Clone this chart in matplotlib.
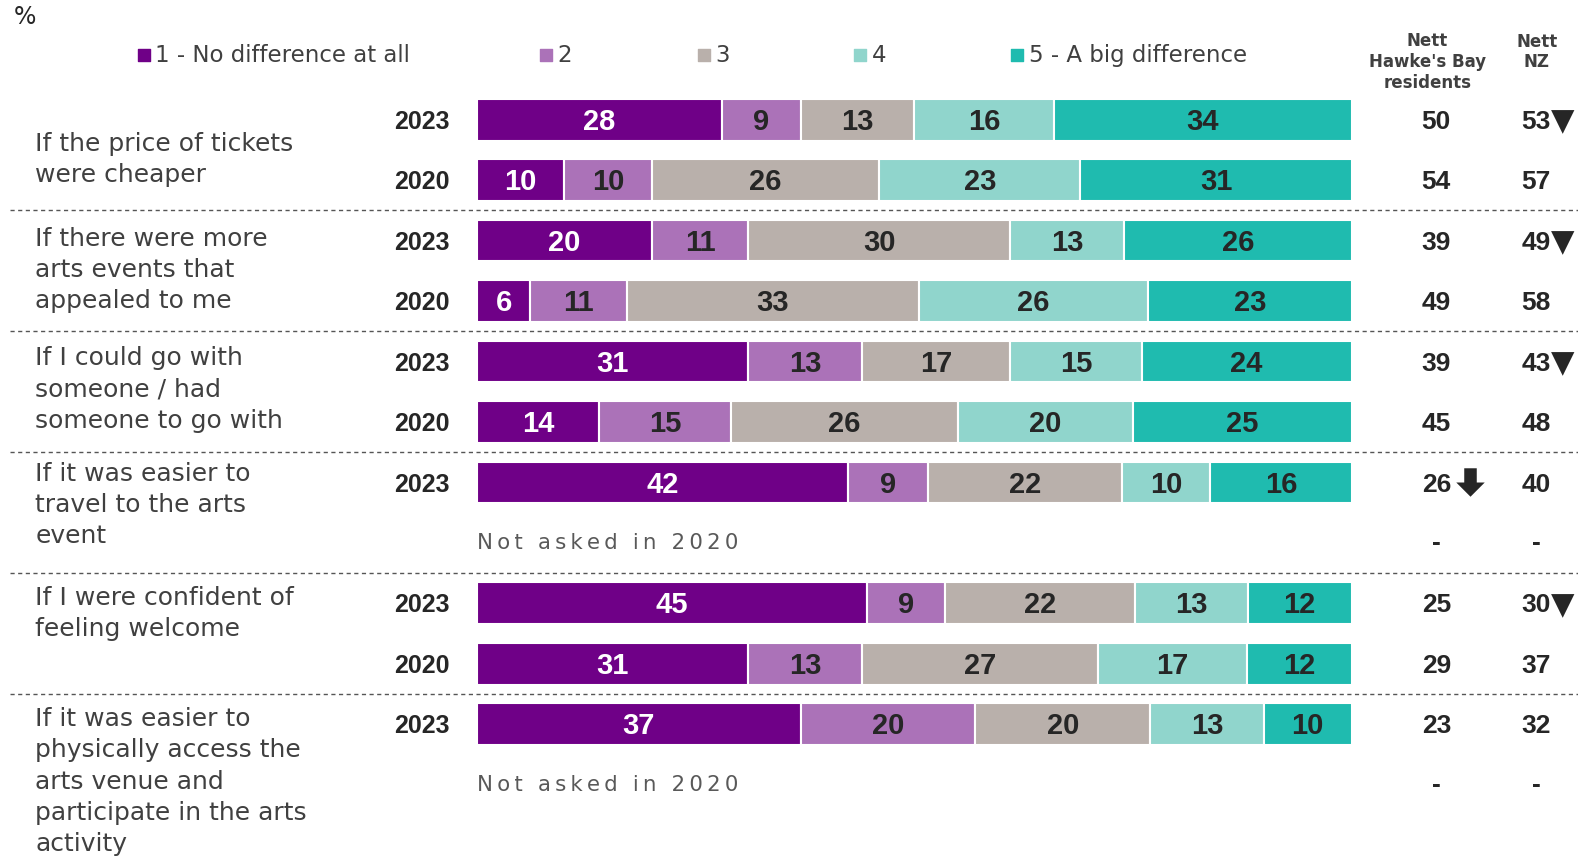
import matplotlib
matplotlib.use('Agg')
import matplotlib.pyplot as plt
from matplotlib.path import Path
import numpy as np

# Survey data: share of respondents for each scale point (1..5)
categories = [
    'If the price of tickets\nwere cheaper',
    'If there were more\narts events that\nappealed to me',
    'If I could go with\nsomeone / had\nsomeone to go with',
    'If it was easier to\ntravel to the arts\nevent',
    'If I were confident of\nfeeling welcome',
    'If it was easier to\nphysically access the\narts venue and\nparticipate in the arts\nactivity',
]
years = ['2023', '2020']
scale_labels = ['1 - No difference at all', '2', '3', '4', '5 - A big difference']

# None = not asked in 2020
values_2023 = [
    [28, 9, 13, 16, 34],
    [20, 11, 30, 13, 26],
    [31, 13, 17, 15, 24],
    [42, 9, 22, 10, 16],
    [45, 9, 22, 13, 12],
    [37, 20, 20, 13, 10],
]
values_2020 = [
    [10, 10, 26, 23, 31],
    [6, 11, 33, 26, 23],
    [14, 15, 26, 20, 25],
    None,
    [31, 13, 27, 17, 12],
    None,
]
nett_hb_2023 = [50, 39, 39, 26, 25, 23]
nett_hb_2020 = [54, 49, 45, None, 29, None]
nett_nz_2023 = [53, 49, 43, 40, 30, 32]
nett_nz_2020 = [57, 58, 48, None, 37, None]
# significance flags
nz_lower_2023 = [True, True, True, False, True, False]
hb_lower_2023 = [False, False, False, True, False, False]

colors = ['#6f0087', '#ab72b8', '#b9b0ab', '#90d5cc', '#1fbbaf']
text_colors = ['white', '#262626', '#262626', '#262626', '#262626']
dark = '#262626'
grey = '#404040'

label_font = 'DejaVu Sans'
num_font = 'Liberation Sans'

# thick down arrow marker
arrow = Path([(-0.22, 0.5), (0.22, 0.5), (0.22, 0.0), (0.5, 0.0), (0.0, -0.5),
              (-0.5, 0.0), (-0.22, 0.0), (-0.22, 0.5)],
             [Path.MOVETO] + [Path.LINETO] * 6 + [Path.CLOSEPOLY])

fig = plt.figure(figsize=(15.78, 8.59), dpi=100)
ax = fig.add_axes([0, 0, 1, 1])
ax.set_xlim(-54.55, 125.9)
ax.set_ylim(12.23, -1.98)
ax.axis('off')

bar_h = 0.69
dy = 0.035  # nudge text down a touch

for g in range(len(categories)):
    for k, vals in enumerate([values_2023[g], values_2020[g]]):
        row = 2 * g + k
        if vals is None:
            ax.text(0, row, '\u2009'.join('Not asked in 2020'), ha='left', va='center',
                    fontsize=15.3, color='#595959', family=label_font)
            ax.text(109.7, row, '-', ha='center', va='center', fontsize=19,
                    fontweight='bold', color=dark, family=num_font)
            ax.text(121.1, row, '-', ha='center', va='center', fontsize=19,
                    fontweight='bold', color=dark, family=num_font)
            continue
        ax.text(-3.1, row + dy, years[k], ha='right', va='center',
                fontsize=18, fontweight='bold', color=dark, family=num_font)
        total = sum(vals)
        widths = np.array(vals) / total * 100
        lefts = np.concatenate([[0], np.cumsum(widths)[:-1]])
        ax.barh(row, widths, left=lefts, height=bar_h, color=colors,
                edgecolor='white', linewidth=1.5)
        for v, w, l, tc in zip(vals, widths, lefts, text_colors):
            ax.text(l + w / 2, row + dy, str(v), ha='center', va='center',
                    fontsize=21, fontweight='bold', color=tc, family=num_font)
        hb = nett_hb_2023[g] if k == 0 else nett_hb_2020[g]
        nz = nett_nz_2023[g] if k == 0 else nett_nz_2020[g]
        ax.text(109.7, row + dy, str(hb), ha='center', va='center', fontsize=19,
                fontweight='bold', color=dark, family=num_font)
        ax.text(121.1, row + dy, str(nz), ha='center', va='center', fontsize=19,
                fontweight='bold', color=dark, family=num_font)
        if k == 0 and nz_lower_2023[g]:
            ax.text(122.8, row + dy, '\u25BC', ha='left', va='center', fontsize=22,
                    color=dark, family='DejaVu Sans')
        if k == 0 and hb_lower_2023[g]:
            ax.scatter([113.6], [row], marker=arrow, s=420, color=dark,
                       linewidths=0)

# category labels
label_y = [0.66, 2.49, 4.46, 6.37, 8.17, 10.95]
for cat, y in zip(categories, label_y):
    ax.text(-50.5, y, cat, ha='left', va='center', fontsize=18, color=grey,
            family=label_font, linespacing=1.38)

# group separators
for y in [1.5, 3.5, 5.5, 7.5, 9.5]:
    ax.plot([-53.4, 125.9], [y, y], color='#555555', linewidth=1,
            linestyle=(0, (3, 2.5)), clip_on=False)

# legend
legend_x = [-38.1, 7.9, 25.9, 43.8, 61.8]
for lx, lab, c in zip(legend_x, scale_labels, colors):
    ax.scatter([lx], [-1.065], marker='s', s=70, color=c, clip_on=False)
    ax.text(lx + 1.3, -1.065, lab, ha='left', va='center', fontsize=16.5,
            color=grey, family=label_font)

# column headers
ax.text(108.7, -0.95, "Nett\nHawke's Bay\nresidents", ha='center', va='center',
        fontsize=12, fontweight='bold', color=grey, family='DejaVu Sans', linespacing=1.2)
ax.text(121.2, -1.12, 'Nett\nNZ', ha='center', va='center', fontsize=12,
        fontweight='bold', color=grey, family='DejaVu Sans', linespacing=1.2)

ax.text(-53.0, -1.70, '%', ha='left', va='center', fontsize=17, color=dark,
        family=label_font)

fig.savefig('out.png', dpi=100)
